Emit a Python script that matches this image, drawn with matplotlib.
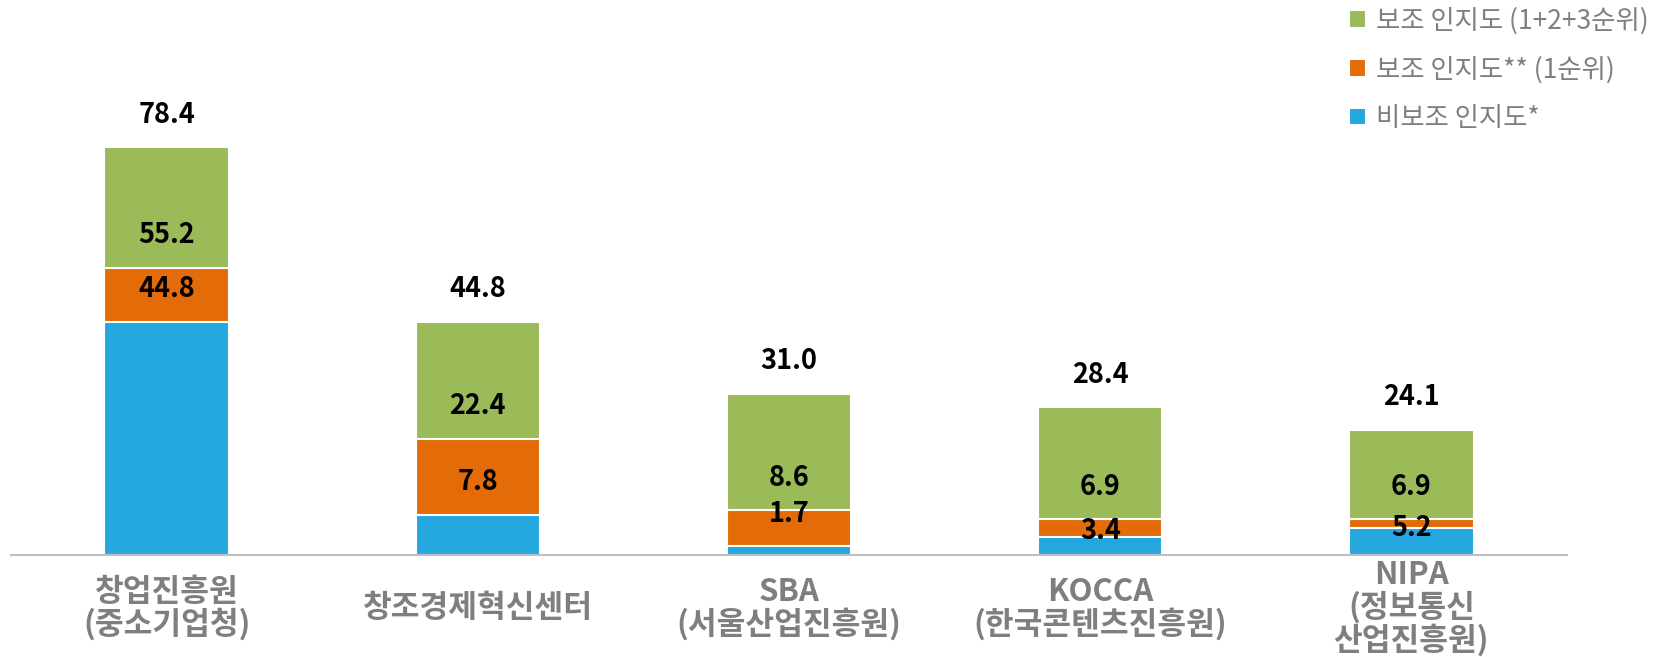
import matplotlib
matplotlib.use("Agg")
import matplotlib.pyplot as plt
import numpy as np

plt.rcParams['font.family'] = ['Noto Sans CJK KR', 'DejaVu Sans']

categories = ['창업진흥원\n(중소기업청)', '창조경제혁신센터', 'SBA\n(서울산업진흥원)',
              'KOCCA\n(한국콘텐츠진흥원)', 'NIPA\n(정보통신\n산업진흥원)']
aided_total = [78.4, 44.8, 31.0, 28.4, 24.1]   # 보조 인지도 (1+2+3순위)
aided_first = [55.2, 22.4, 8.6, 6.9, 6.9]      # 보조 인지도** (1순위)
unaided = [44.8, 7.8, 1.7, 3.4, 5.2]           # 비보조 인지도*

series_names = ['보조 인지도 (1+2+3순위)', '보조 인지도** (1순위)', '비보조 인지도*']
colors = ['#9BBB59', '#E36C09', '#23A7DE']

fig = plt.figure(figsize=(16.66, 6.57), dpi=100)
ax = fig.add_axes([11 / 1666, 0.155, 1556 / 1666, 0.7915])

x = np.arange(len(categories))
bars = []
for vals, col, name in zip([aided_total, aided_first, unaided], colors, series_names):
    b = ax.bar(x, vals, width=0.4, color=col, edgecolor='white', linewidth=1.5, label=name, zorder=2)
    bars.append(b)

# value labels sit a bit above the top of each bar
gap = 6.3
nudge = {(2, 3): 1.2, (2, 4): 0.0}
for s, vals in enumerate([aided_total, aided_first, unaided]):
    for i, v in enumerate(vals):
        g = nudge.get((s, i), gap)
        ax.text(i, v + g, f"{v:.1f}", ha='center', va='center', fontsize=19.5,
                fontweight='bold', color='black', zorder=3)

for i, lab in enumerate(categories):
    ax.annotate(lab, xy=(i, 0), xytext=(0, -38), textcoords='offset points',
                ha='center', va='center', fontsize=22.5, fontweight='bold',
                color='#7F7F7F', linespacing=1.0, annotation_clip=False)

ax.set_xlim(-0.5, 4.5)
ax.set_ylim(0, 100)
for sp in ['top', 'right', 'left']:
    ax.spines[sp].set_visible(False)
ax.spines['bottom'].set_color('#BFBFBF')
ax.spines['bottom'].set_linewidth(1.5)
ax.set_xticks([])
ax.set_yticks([])

fig.legend(handles=bars, labels=series_names, loc='upper left',
           bbox_to_anchor=(1349 / 1666, 1 - 7 / 657), frameon=False,
           fontsize=19, labelcolor='#7F7F7F', handlelength=0.64, handleheight=0.64,
           handletextpad=0.4, labelspacing=0.82, borderpad=0, borderaxespad=0)

fig.savefig('out.png', dpi=100)
